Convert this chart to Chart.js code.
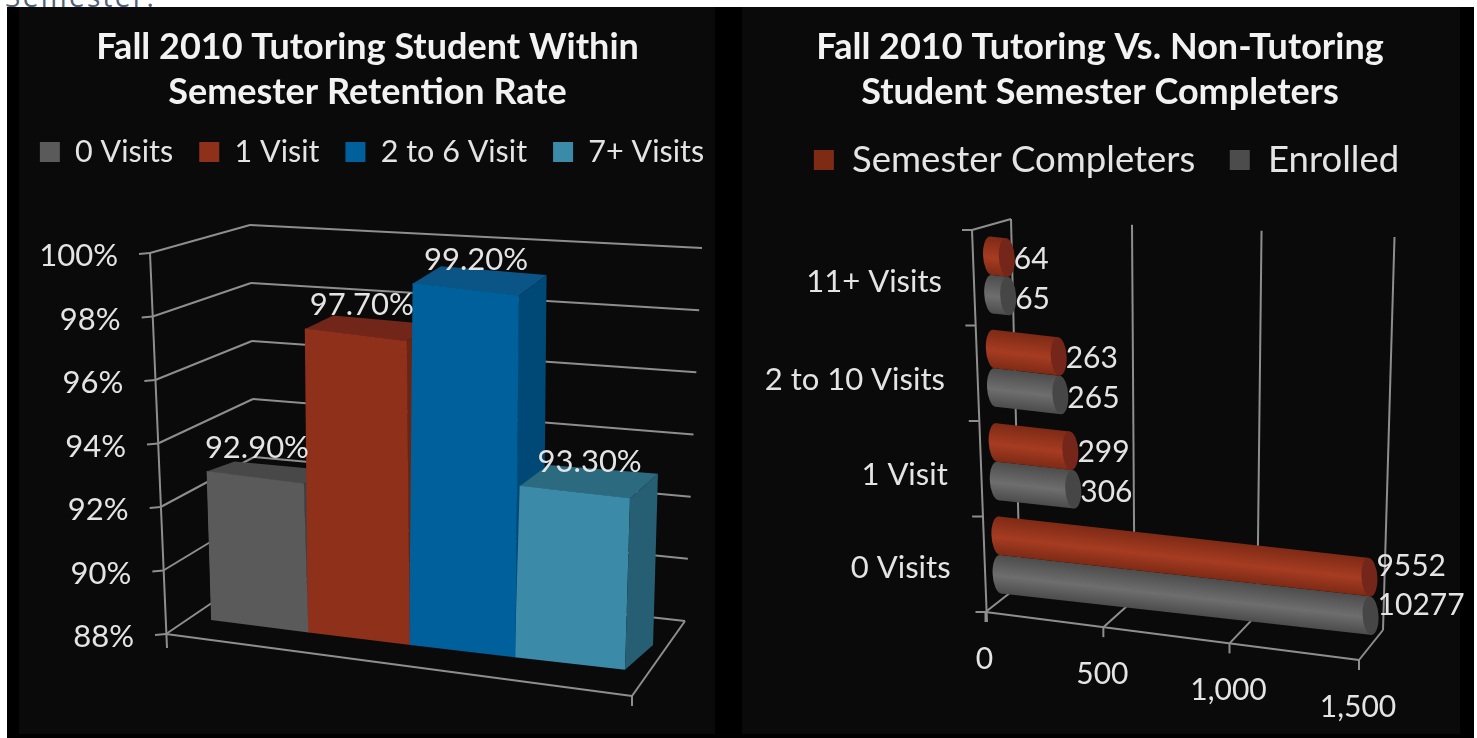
<!DOCTYPE html>
<html>
<head>
<meta charset="utf-8">
<title>Fall 2010 Tutoring</title>
<script src="https://cdn.jsdelivr.net/npm/chart.js@4"></script>
<style>
  html,body{margin:0;padding:0;background:#fff;overflow:hidden;width:1477px;height:738px;font-family:Lato,sans-serif}
  #cut{position:absolute;left:5px;top:-23px;font:28px "Open Sans",sans-serif;letter-spacing:2.3px;color:#51617a}
  #frame{position:absolute;left:7px;top:7px;width:1467px;height:731px;background:#000}
  .inner{position:absolute;top:7px;height:727px;background:#0a0a0a}
  canvas{position:absolute;top:0;filter:blur(.7px)}
</style>
</head>
<body>
<div id="cut">Semester.</div>
<div id="frame"></div>
<div class="inner" style="left:19px;width:696px"></div>
<div class="inner" style="left:742px;width:718px"></div>
<canvas id="chartRetention" width="735" height="738" style="left:0"></canvas>
<canvas id="chartCompleters" width="754" height="738" style="left:723px"></canvas>
<script>
// dados
const retentionTitle = ['Fall 2010 Tutoring Student Within', 'Semester Retention Rate'];
const retentionSeries = ['0 Visits', '1 Visit', '2 to 6 Visit', '7+ Visits'];
const retentionValues = [92.9, 97.7, 99.2, 93.3];
const retentionTicks = ['100%', '98%', '96%', '94%', '92%', '90%', '88%'];

const completersTitle = ['Fall 2010 Tutoring Vs. Non-Tutoring', 'Student Semester Completers'];
const visitCategories = ['11+ Visits', '2 to 10 Visits', '1 Visit', '0 Visits'];
const semesterCompleters = [64, 263, 299, 9552];
const enrolled = [65, 265, 306, 10277];
const completersTicks = ['0', '500', '1,000', '1,500'];

const FONT = 'Lato, sans-serif';
const TEXT = '#e4e4e4';
const LINE = '#8e8e8e';
const RIGHT_X = 723; // onde o segundo canvas começa na página

Chart.defaults.animation = false;
Chart.defaults.font.family = FONT;
Chart.defaults.color = TEXT;

function poly(ctx, pts, fill){
  ctx.beginPath();
  pts.forEach((p,i)=> i ? ctx.lineTo(p[0],p[1]) : ctx.moveTo(p[0],p[1]));
  ctx.closePath();
  ctx.fillStyle = fill;
  ctx.fill();
}
function seg(ctx, x1, y1, x2, y2){
  ctx.beginPath(); ctx.moveTo(x1,y1); ctx.lineTo(x2,y2); ctx.stroke();
}
// eixo invisivel, so para reservar espaco sem apertar titulo e legenda
function spacer(position, size, extra){
  return Object.assign({
    position, ticks:{display:false}, grid:{display:false}, border:{display:false},
    afterFit(s){ if(s.isHorizontal()) s.height = size; else s.width = size; }
  }, extra);
}
// a legenda do original nao fica centrada com o titulo
function legendShift(dx){
  return { id:'legendShift', afterLayout(chart){ chart.legend.left += dx; chart.legend.right += dx; } };
}

// ---- grafico da esquerda: colunas 3D ----
const faces = [
  {front:'#5a5a5a', top:'#484848', side:'#404040'},
  {front:'#8f301b', top:'#72261a', side:'#6a2414'},
  {front:'#00609c', top:'#0a5586', side:'#004876'},
  {front:'#3a8aa8', top:'#2c6a80', side:'#265f73'}
];
// cada coluna tem sua propria transformacao, para imitar a perspectiva
function barMatrix(chart, el){
  const area = chart.chartArea, dx = el.x - 415;
  return {
    b: 0.12,
    s: Math.min(1.029, 0.965 + 0.0003 * (el.x - 258)),
    sx: 1 + 0.0004 * dx,
    sh: -dx * 0.00019,
    cx: el.x,
    cxTo: el.x + 0.0002 * (dx*dx - 24964),
    left: area.left,
    bot: area.bottom
  };
}
function mapPoint(m, x, y){
  return [m.cxTo + (x - m.cx) * m.sx + m.sh * (y - m.bot), m.bot + (y - m.bot) * m.s + m.b * (x - m.left)];
}
function deep(p){
  return [p[0] + 28, p[1] - (10 + 0.035 * (p[0] - 208))];
}
const retentionPlugin = {
  id: 'retention3d',
  beforeDatasetsDraw(chart){
    const {ctx, scales:{y}} = chart;
    // paredes e piso
    const frontTop = [150,253], frontBot = [166,634];
    const cornerTop = [250,225], cornerBot = [256,573];
    const endTop = [702,248], endBot = [685,621];
    const lerp = (a,b,t)=>[a[0]+(b[0]-a[0])*t, a[1]+(b[1]-a[1])*t];
    ctx.save();
    ctx.strokeStyle = LINE; ctx.lineWidth = 2;
    seg(ctx, frontTop[0], frontTop[1], frontBot[0]+1, frontBot[1]+14);
    ctx.font = '31px '+FONT; ctx.fillStyle = TEXT; ctx.textAlign = 'right'; ctx.textBaseline = 'middle';
    retentionTicks.forEach(label=>{
      const t = (y.getPixelForValue(parseFloat(label)) - y.top) / y.height;
      const f = lerp(frontTop,frontBot,t), c = lerp(cornerTop,cornerBot,t), e = lerp(endTop,endBot,t);
      seg(ctx, f[0]-11, f[1]+1, f[0], f[1]);
      seg(ctx, f[0], f[1], c[0], c[1]);
      seg(ctx, c[0], c[1], e[0], e[1]);
      ctx.fillText(label, f[0]-32, f[1]+3);
    });
    seg(ctx, frontBot[0], frontBot[1], 632, 696);
    seg(ctx, 632, 696, 632, 706);
    seg(ctx, 632, 696, endBot[0], endBot[1]);
    // topo e lateral das colunas
    chart.data.datasets.forEach((ds,i)=>{
      const el = chart.getDatasetMeta(i).data[0], m = barMatrix(chart, el);
      const x1 = el.x - el.width/2, x2 = el.x + el.width/2;
      const tl = mapPoint(m,x1,el.y), tr = mapPoint(m,x2,el.y), br = mapPoint(m,x2,chart.chartArea.bottom);
      poly(ctx, [tr, deep(tr), deep(br), br], faces[i].side);
      poly(ctx, [tl, tr, deep(tr), deep(tl)], faces[i].top);
    });
    ctx.restore();
  },
  beforeDatasetDraw(chart, args){
    const m = barMatrix(chart, args.meta.data[0]);
    chart.ctx.save();
    chart.ctx.transform(m.sx, m.b, m.sh, m.s, m.cxTo - m.cx*m.sx - m.sh*m.bot, m.bot*(1-m.s) - m.b*m.left);
  },
  afterDatasetDraw(chart){ chart.ctx.restore(); },
  afterDatasetsDraw(chart){
    const ctx = chart.ctx;
    ctx.save();
    ctx.font = '31px '+FONT; ctx.fillStyle = TEXT; ctx.textAlign = 'center'; ctx.textBaseline = 'middle';
    chart.data.datasets.forEach((ds,i)=>{
      const el = chart.getDatasetMeta(i).data[0], m = barMatrix(chart, el);
      const p = mapPoint(m, el.x, el.y);
      ctx.fillText(ds.data[0].toFixed(2)+'%', p[0] + (p[0]-258)*0.04 + 2, p[1] - 30);
    });
    ctx.restore();
  }
};

new Chart(document.getElementById('chartRetention'), {
  type: 'bar',
  data: {
    labels: [''],
    datasets: retentionSeries.map((name,i)=>({
      label: name,
      data: [retentionValues[i]],
      backgroundColor: faces[i].front,
      categoryPercentage: 1,
      barPercentage: 1
    }))
  },
  options: {
    responsive: false,
    layout: { padding: { bottom:118 } },
    scales: {
      x: spacer('top', 66),
      y: spacer('left', 208, { min:parseFloat(retentionTicks[retentionTicks.length-1]), max:parseFloat(retentionTicks[0]) }),
      rightGap: spacer('right', 113, { type:'linear', axis:'y' })
    },
    plugins: {
      title: { display:true, text:retentionTitle, color:'#f2f2f2', font:{size:36, weight:'bold', lineHeight:45/36}, padding:{top:24.5, bottom:-3.75} },
      legend: { labels: { boxWidth:20, boxHeight:20, padding:26, font:{size:30.5} } },
      tooltip: { enabled:false }
    }
  },
  plugins: [retentionPlugin, legendShift(4.5)]
});

// ---- grafico da direita: cilindros horizontais ----
const tubes = [
  {dark:'#7e2a15', mid:'#a63c22', cap:'#74261a', flat:'#a33a20'},
  {dark:'#4c4c4c', mid:'#6e6e6e', cap:'#464646', flat:'#5f5f5f'}
];
const BAR_SHARE = 0.825;
function tubeFill(c){
  const tube = tubes[c.datasetIndex];
  const y = c.chart.scales.y;
  if(c.dataIndex === undefined || !y) return tube.flat;
  const h = y.height / visitCategories.length * BAR_SHARE / 2;
  const mid = y.getPixelForValue(c.dataIndex) + (c.datasetIndex ? h/2 : -h/2);
  if(!isFinite(mid) || !isFinite(h)) return tube.flat;
  const g = c.chart.ctx.createLinearGradient(0, mid-h/2, 0, mid+h/2);
  g.addColorStop(0, tube.dark);
  g.addColorStop(0.55, tube.mid);
  g.addColorStop(1, tube.dark);
  return g;
}
const SKEW_X = 0.03, SKEW_Y = 0.112, CAP_RX = 8;
function tubeTransform(chart){
  const {x, y} = chart.scales;
  const px = x.left, py = y.getPixelForValue(visitCategories.length-1);
  return {px, py};
}
function perspective(v){ return Math.pow(v, 1.05); }
const completersPlugin = {
  id: 'completers3d',
  beforeDatasetsDraw(chart){
    const {ctx} = chart;
    ctx.save();
    ctx.translate(-RIGHT_X, 0); // paredes em coordenadas da pagina
    ctx.strokeStyle = LINE; ctx.lineWidth = 2;
    const count = visitCategories.length;
    for(let i=0;i<=count;i++){
      const t = i/count;
      const ax = 972 + 13.5*t, ay = 230 + 382*t;
      seg(ctx, ax-10, ay, ax, ay);
    }
    seg(ctx, 972, 230, 987, 622);
    seg(ctx, 972, 230, 1011, 219);
    seg(ctx, 985.5, 612, 1359, 660);
    ctx.font = '30px '+FONT; ctx.fillStyle = TEXT; ctx.textAlign = 'center'; ctx.textBaseline = 'middle';
    completersTicks.forEach(label=>{
      const v = parseFloat(label.replace(',',''));
      const t = perspective((chart.scales.x.getPixelForValue(v) - chart.scales.x.left) / chart.scales.x.width);
      const fx = 985.5 + 373.5*t, fy = 612 + 48*t;
      const bx = 1020 + 363*t, by = 585 + 45*t;
      const tx = 1011 + 383.5*t, ty = 219 + 18*t;
      seg(ctx, fx, fy, fx, fy+10);
      seg(ctx, fx, fy, bx, by);
      seg(ctx, bx, by, tx, ty);
      ctx.fillText(label, fx-1, fy+47);
    });
    ctx.font = '31px '+FONT; ctx.textAlign = 'right';
    visitCategories.forEach((label,i)=>{
      const p = chart.scales.y.getPixelForValue(i) + Math.min(7+5*i, 13);
      ctx.fillText(label, 942 + (p-282)*0.03, p);
    });
    ctx.restore();
  },
  beforeDatasetDraw(chart, args){
    const {ctx} = chart, {px,py} = tubeTransform(chart);
    ctx.save();
    ctx.transform(1, SKEW_Y, SKEW_X, 1, -SKEW_X*py, -SKEW_Y*px);
    args.meta.data.forEach(el=>{
      ctx.beginPath();
      ctx.ellipse(el.base, el.y, CAP_RX, el.height/2, 0, 0, Math.PI*2);
      ctx.fillStyle = el.options.backgroundColor;
      ctx.fill();
    });
  },
  afterDatasetDraw(chart, args){
    const {ctx, chartArea} = chart;
    args.meta.data.forEach(el=>{
      ctx.beginPath();
      ctx.ellipse(Math.min(el.x, chartArea.right), el.y, CAP_RX, el.height/2, 0, 0, Math.PI*2);
      ctx.fillStyle = tubes[args.index].cap;
      ctx.fill();
    });
    ctx.restore();
  },
  afterDatasetsDraw(chart){
    const {ctx, chartArea} = chart, {px,py} = tubeTransform(chart);
    ctx.save();
    ctx.font = '30px '+FONT; ctx.fillStyle = TEXT; ctx.textAlign = 'left'; ctx.textBaseline = 'middle';
    chart.data.datasets.forEach((ds,i)=>{
      chart.getDatasetMeta(i).data.forEach((el,j)=>{
        const clipped = el.x > chartArea.right;
        const ex = Math.min(el.x, chartArea.right);
        const x = ex + SKEW_X*(el.y-py) + CAP_RX - 1;
        const y = el.y + SKEW_Y*(ex-px) - (clipped ? 13 : 0) + 2 + (i ? 1 : 0);
        ctx.fillText(String(ds.data[j]), x, y);
      });
    });
    ctx.restore();
  }
};

new Chart(document.getElementById('chartCompleters'), {
  type: 'bar',
  data: {
    labels: visitCategories,
    datasets: [
      {label:'Semester Completers', data:semesterCompleters, backgroundColor:tubeFill, categoryPercentage:BAR_SHARE, barPercentage:1},
      {label:'Enrolled', data:enrolled, backgroundColor:tubeFill, categoryPercentage:BAR_SHARE, barPercentage:1}
    ]
  },
  options: {
    indexAxis: 'y',
    responsive: false,
    layout: { padding: { bottom:136.4 } },
    scales: {
      x: spacer('top', 40.15, { min:0, max:1500 }),
      y: spacer('left', 277),
      rightGap: spacer('right', 107, { type:'linear', axis:'y' })
    },
    plugins: {
      title: { display:true, text:completersTitle, color:'#f2f2f2', font:{size:36, weight:'bold', lineHeight:45/36}, padding:{top:24.5, bottom:-7.25} },
      legend: { labels: { boxWidth:20, boxHeight:20, padding:34.5, font:{size:36.5} } },
      tooltip: { enabled:false }
    }
  },
  plugins: [completersPlugin, legendShift(6.5)]
});
</script>
</body>
</html>
